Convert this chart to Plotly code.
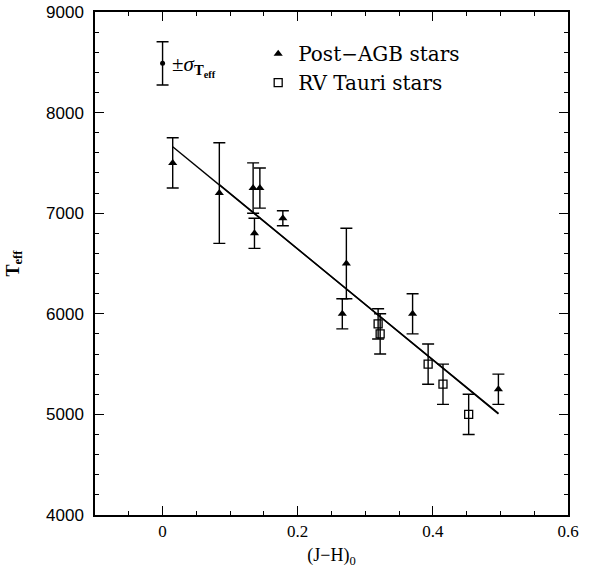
import plotly.graph_objects as go

# Post-AGB stars
agb_x = [0.015, 0.084, 0.134, 0.144, 0.136, 0.178, 0.272, 0.266, 0.370, 0.497]
agb_t = [7500, 7200, 7250, 7250, 6800, 6950, 6500, 6000, 6000, 5250]
agb_err = [250, 500, 250, 200, 150, 75, 350, 150, 200, 150]

# RV Tauri stars
rv_x = [0.319, 0.322, 0.393, 0.415, 0.453]
rv_t = [5900, 5800, 5500, 5300, 5000]
rv_err = [150, 200, 200, 200, 200]

# fit lines
fit_x = [0.015, 0.497]
fit_t = [7660, 5010]
fit2_x = [0.084, 0.497]
fit2_t = [7285, 5005]

# typical sigma indicator
sig_x = [0.0]
sig_t = [8490]
sig_err = [215]

x_ticks = [0, 0.2, 0.4, 0.6]
x_ticklabels = ["0", "0.2", "0.4", "0.6"]
y_ticks = [4000, 5000, 6000, 7000, 8000, 9000]
y_ticklabels = ["4000", "5000", "6000", "7000", "8000", "9000"]

SERIF = "Liberation Serif"
LEG_SERIF = "DejaVu Serif"
SANS = "Liberation Sans"
LW = 1.4

fig = go.Figure()

fig.add_trace(go.Scatter(x=fit_x, y=fit_t, mode="lines",
                         line=dict(color="black", width=1.4), showlegend=False, hoverinfo="skip"))
fig.add_trace(go.Scatter(x=fit2_x, y=fit2_t, mode="lines",
                         line=dict(color="black", width=1.4), showlegend=False, hoverinfo="skip"))

fig.add_trace(go.Scatter(
    x=agb_x, y=agb_t, mode="markers", name="Post\u2212AGB stars",
    marker=dict(symbol="triangle-up", size=8, color="black"),
    error_y=dict(type="data", array=agb_err, visible=True, color="black", thickness=LW, width=6),
))
fig.add_trace(go.Scatter(
    x=rv_x, y=rv_t, mode="markers", name="RV Tauri stars",
    marker=dict(symbol="square-open", size=8, color="black", line=dict(width=1.3, color="black")),
    error_y=dict(type="data", array=rv_err, visible=True, color="black", thickness=LW, width=6),
))
fig.add_trace(go.Scatter(
    x=sig_x, y=sig_t, mode="markers", showlegend=False,
    marker=dict(symbol="circle", size=5, color="black"),
    error_y=dict(type="data", array=sig_err, visible=True, color="black", thickness=LW, width=6),
))

fig.add_annotation(x=sig_x[0], y=sig_t[0], xref="x", yref="y", xanchor="left", yanchor="middle",
                   xshift=7, yshift=-3, showarrow=False,
                   text="\u00b1<i>\u03c3</i><sub><b>T<sub>eff</sub></b></sub>",
                   font=dict(family=SERIF, size=21, color="black"))

axis_common = dict(
    showline=True, linecolor="black", linewidth=1.5, mirror="allticks",
    ticks="inside", ticklen=9, tickwidth=1.2, tickcolor="black",
    showgrid=False, zeroline=False, automargin=False,
)

fig.update_xaxes(
    range=[-0.1, 0.6], tickvals=x_ticks, ticktext=x_ticklabels,
    tickfont=dict(family=SERIF, size=17, color="black"),
    minor=dict(dtick=0.05, ticks="inside", ticklen=4.5, tickwidth=1.2, tickcolor="black", showgrid=False),
    title=dict(text="(J\u2212H)<sub>0</sub>", font=dict(family=SERIF, size=18, color="black"), standoff=8),
    **axis_common,
)
fig.update_yaxes(
    range=[4000, 9000], tickvals=y_ticks, ticktext=y_ticklabels,
    tickfont=dict(family=SANS, size=17, color="black"), ticklabelstandoff=6,
    minor=dict(dtick=200, ticks="inside", ticklen=4.5, tickwidth=1.2, tickcolor="black", showgrid=False),
    title=dict(text="<b>T<sub>eff</sub></b>", font=dict(family=SERIF, size=18, color="black"), standoff=22),
    **axis_common,
)

fig.update_layout(
    width=590, height=571,
    margin=dict(l=95, r=22, t=12, b=56),
    paper_bgcolor="white", plot_bgcolor="white",
    legend=dict(x=0.345, y=0.956, xanchor="left", yanchor="top",
                font=dict(family=LEG_SERIF, size=20, color="black"),
                bgcolor="rgba(0,0,0,0)", itemsizing="trace", tracegroupgap=0),
)

fig.write_html("out.html")
